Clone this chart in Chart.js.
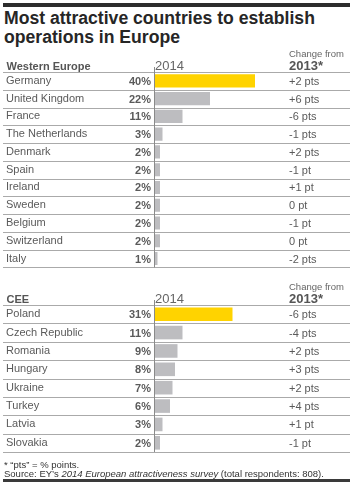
<!DOCTYPE html>
<html><head><meta charset="utf-8">
<script src="https://cdn.jsdelivr.net/npm/chart.js@4/dist/chart.umd.min.js"></script>
<style>
html,body{margin:0;padding:0;background:#fff;}
body{width:354px;height:486px;overflow:hidden;position:relative;font-family:"Liberation Sans",Arial,sans-serif;}
#topbar{position:absolute;left:3px;top:3px;width:347px;height:4px;background:#2d2d2d;}
#title{position:absolute;left:4px;top:9px;font-weight:bold;font-size:17.6px;line-height:19px;color:#262626;white-space:nowrap;}
canvas{position:absolute;left:0;}
#c1{top:44px;}
#c2{top:276px;}
#foot{position:absolute;left:4px;top:460px;font-size:9.5px;line-height:9px;color:#333;white-space:nowrap;}
#botbar{position:absolute;left:3px;top:479px;width:347px;height:3px;background:#3a3a3a;}
</style></head>
<body>
<div id="topbar"></div>
<div id="title">Most attractive countries to establish<br>operations in Europe</div>
<canvas id="c1" width="354" height="230"></canvas>
<canvas id="c2" width="354" height="185"></canvas>
<div id="foot">* “pts” = % points.<br>Source: EY’s <i>2014 European attractiveness survey</i> (total respondents: 808).</div>
<div id="botbar"></div>
<script>
const westCountries = ["Germany","United Kingdom","France","The Netherlands","Denmark","Spain","Ireland","Sweden","Belgium","Switzerland","Italy"];
const westShare = [40,22,11,3,2,2,2,2,2,2,1];
const westChange = ["+2 pts","+6 pts","-6 pts","-1 pts","+2 pts","-1 pt","+1 pt","0 pt","-1 pt","0 pt","-2 pts"];

const ceeCountries = ["Poland","Czech Republic","Romania","Hungary","Ukraine","Turkey","Latvia","Slovakia"];
const ceeShare = [31,11,9,8,7,6,3,2];
const ceeChange = ["-6 pts","-4 pts","+2 pts","+3 pts","+2 pts","+4 pts","+1 pt","-1 pt"];

const yearLabel = "2014";
const changeLabel1 = "Change from";
const changeLabel2 = "2013*";

const YELLOW = "#ffd300";
const GRAY = "#bdbdc0";
const FONT = '"Liberation Sans", Arial, sans-serif';

const tablePlugin = {
  id: "table",
  afterDraw(chart, args, opts) {
    const {ctx, chartArea: a, scales: {y}} = chart;
    const n = opts.values.length;
    const pitch = (a.bottom - a.top) / n;
    ctx.save();
    ctx.strokeStyle = "#aaaaaa";
    ctx.lineWidth = 1;
    for (let i = 0; i <= n; i++) {
      const yy = Math.round(a.top + i * pitch) + 0.5;
      ctx.beginPath(); ctx.moveTo(3, yy); ctx.lineTo(350, yy); ctx.stroke();
    }
    ctx.strokeStyle = "#8a8a8a";
    ctx.beginPath(); ctx.moveTo(a.left - 0.5, a.top - 5); ctx.lineTo(a.left - 0.5, a.bottom); ctx.stroke();
    ctx.fillStyle = "#5a5a5a";
    ctx.font = "bold 11px " + FONT;
    ctx.textAlign = "right";
    ctx.textBaseline = "middle";
    opts.values.forEach((v, i) => ctx.fillText(v + "%", a.left - 4, y.getPixelForValue(i) + 1));
    ctx.font = "11px " + FONT;
    ctx.textAlign = "left";
    opts.change.forEach((t, i) => ctx.fillText(t, 289, y.getPixelForValue(i) + 1));
    ctx.textBaseline = "alphabetic";
    ctx.fillStyle = "#555";
    ctx.font = "bold 11px " + FONT;
    ctx.fillText(opts.section, 6.5, a.top - 2.5);
    ctx.fillStyle = "#666";
    ctx.font = "13px " + FONT;
    ctx.fillText(yearLabel, a.left, a.top - 2.5);
    ctx.font = "9.5px " + FONT;
    ctx.fillText(changeLabel1, 289, a.top - 15.5);
    ctx.fillStyle = "#555";
    ctx.font = "bold 13px " + FONT;
    ctx.fillText(changeLabel2, 289, a.top - 2.5);
    ctx.restore();
  }
};

function makeChart(id, section, labels, values, change, padTop, padBottom) {
  const maxV = Math.max(...values);
  return new Chart(document.getElementById(id), {
    type: "bar",
    data: {
      labels: labels,
      datasets: [{
        data: values,
        backgroundColor: (c) => values[c.dataIndex] === maxV ? YELLOW : GRAY,
        borderWidth: 0,
        categoryPercentage: 1,
        barPercentage: 0.74
      }]
    },
    options: {
      indexAxis: "y",
      responsive: false,
      animation: false,
      events: [],
      layout: {padding: {left: 6, right: 9, top: padTop, bottom: padBottom}},
      plugins: {
        legend: {display: false},
        tooltip: {enabled: false},
        table: {section: section, values: values, change: change}
      },
      scales: {
        x: {display: false, min: 0, max: 76},
        y: {
          grid: {display: false},
          border: {display: false},
          afterFit: (s) => { s.width = 149; },
          ticks: {
            crossAlign: "far",
            autoSkip: false,
            padding: 0,
            color: "#5a5a5a",
            font: {family: FONT, size: 11}
          }
        }
      }
    },
    plugins: [tablePlugin]
  });
}

makeChart("c1", "Western Europe", westCountries, westShare, westChange, 28, 5);
makeChart("c2", "CEE", ceeCountries, ceeShare, ceeChange, 29, 9);
</script>
</body></html>
